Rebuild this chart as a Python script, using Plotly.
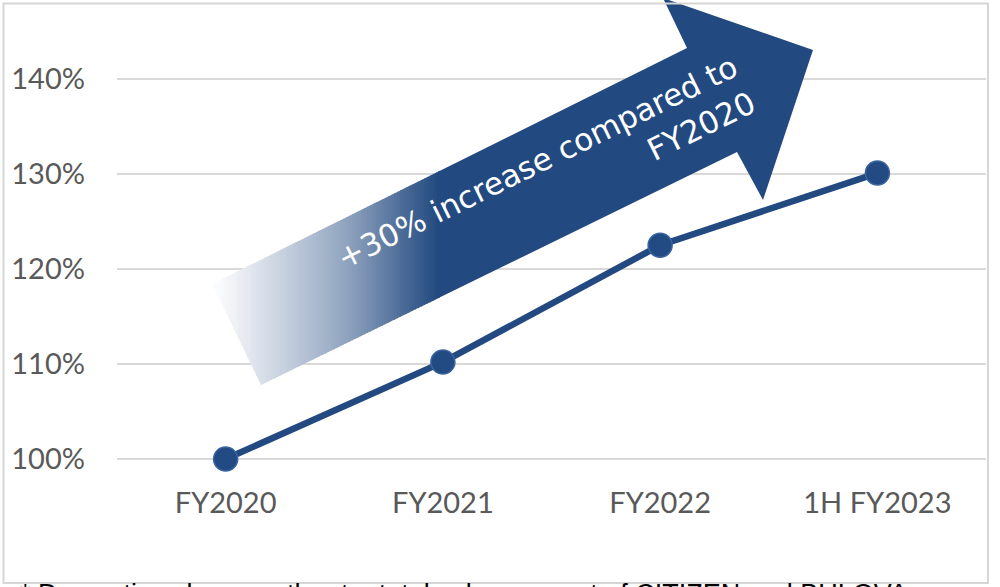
import plotly.graph_objects as go

# ---- data ----
categories = ["FY2020", "FY2021", "FY2022", "1H FY2023"]
sales_index = [100.0, 110.2, 122.5, 130.1]
y_ticks = [100, 110, 120, 130, 140]
y_tick_labels = ["100%", "110%", "120%", "130%", "140%"]
arrow_text = "+30% increase compared to<br>FY2020"
footnote = "* Domestic sales growth rate, total sales amount of CITIZEN and BULOVA"

# ---- layout geometry (pixels) ----
W, H = 1000, 587
L, R, T, B = 117, 14, 4, 126
PW, PH = W - L - R, H - T - B
BLUE = (35, 74, 128)
BLUE_HEX = "#234a80"


def px2paper(x, y):
    return (x - L) / PW, (H - B - y) / PH


def path_from(pts):
    s = ""
    for i, (x, y) in enumerate(pts):
        xp, yp = px2paper(x, y)
        s += ("M" if i == 0 else "L") + f"{xp:.5f},{yp:.5f} "
    return s + "Z"


def clip(poly, x0, x1):
    def clip_half(p, keep, inter):
        out = []
        n = len(p)
        for i in range(n):
            a, b = p[i], p[(i + 1) % n]
            ka, kb = keep(a), keep(b)
            if ka:
                out.append(a)
            if ka != kb:
                out.append(inter(a, b))
        return out

    def ix(xc):
        def f(a, b):
            t = (xc - a[0]) / (b[0] - a[0])
            return (xc, a[1] + t * (b[1] - a[1]))
        return f

    p = clip_half(poly, lambda q: q[0] >= x0, ix(x0))
    if p:
        p = clip_half(p, lambda q: q[0] <= x1, ix(x1))
    return p


# gradient stops (pixel x -> blend amount toward blue)
grad_x = [205, 218, 250, 300, 350, 400, 438]
grad_m = [0.0, 0.02, 0.13, 0.32, 0.52, 0.8, 1.0]


def blend(x):
    if x <= grad_x[0]:
        return grad_m[0]
    for i in range(1, len(grad_x)):
        if x <= grad_x[i]:
            t = (x - grad_x[i - 1]) / (grad_x[i] - grad_x[i - 1])
            return grad_m[i - 1] + t * (grad_m[i] - grad_m[i - 1])
    return 1.0


# arrow outline (pixel space)
arrow = [(212, 284), (687, 48), (663, -2), (813, 50), (763, 200), (737, 152), (261, 385)]

shapes = []
g1 = grad_x[-1]
x = 205.0
step = 3.0
while x < g1:
    m = blend(x + step / 2)
    col = tuple(int(round(255 * (1 - m) + c * m)) for c in BLUE)
    poly = clip(arrow, x, x + step + 0.8)
    if len(poly) >= 3:
        shapes.append(dict(type="path", xref="paper", yref="paper", path=path_from(poly),
                           fillcolor=f"rgb{col}", line=dict(width=0), layer="above"))
    x += step
poly = clip(arrow, g1, 2000)
shapes.append(dict(type="path", xref="paper", yref="paper", path=path_from(poly),
                   fillcolor=BLUE_HEX, line=dict(width=0), layer="above"))

# frame
fx0, fy0 = px2paper(3.5, 583)
fx1, fy1 = px2paper(988, 3.5)
shapes.append(dict(type="rect", xref="paper", yref="paper", x0=fx0, y0=fy0, x1=fx1, y1=fy1,
                   line=dict(color="#d6d6d6", width=2), fillcolor="rgba(0,0,0,0)", layer="above"))

fig = go.Figure()
fig.add_trace(go.Scatter(
    x=categories, y=sales_index, mode="lines+markers",
    line=dict(color=BLUE_HEX, width=6.5),
    marker=dict(size=24, color="#224b84", line=dict(color="#3a64a0", width=1.5)),
    cliponaxis=False, hoverinfo="skip",
))

ax, ay = px2paper(546, 180)
fnx, fny = px2paper(18, 577)
annotations = [
    dict(xref="paper", yref="paper", x=ax, y=ay, text=arrow_text, showarrow=False,
         textangle=-26.3, align="right", xanchor="center", yanchor="middle",
         font=dict(family="DejaVu Sans", size=31, color="white")),
    dict(xref="paper", yref="paper", x=fnx, y=fny, text=footnote, showarrow=False,
         xanchor="left", yanchor="top", font=dict(family="Liberation Sans", size=27, color="black")),
]

fig.update_layout(
    width=W, height=H,
    margin=dict(l=L, r=R, t=T, b=B, pad=0),
    paper_bgcolor="white", plot_bgcolor="white",
    showlegend=False,
    shapes=shapes, annotations=annotations,
    font=dict(family="Lato", color="#595959", size=29),
    xaxis=dict(type="category", range=[-0.5, 3.5], showgrid=False, showline=False,
               zeroline=False, ticks="", ticklabelstandoff=22,
               tickfont=dict(family="Lato", size=29, color="#595959")),
    yaxis=dict(range=[100 - 2 / 9.5, 140 + 75 / 9.5], tickvals=y_ticks, ticktext=y_tick_labels,
               showgrid=True, gridcolor="#d9d9d9", gridwidth=2, zeroline=False, showline=False,
               ticks="", ticklabelstandoff=31,
               tickfont=dict(family="Lato", size=29, color="#595959")),
)

fig.write_html("out.html")
